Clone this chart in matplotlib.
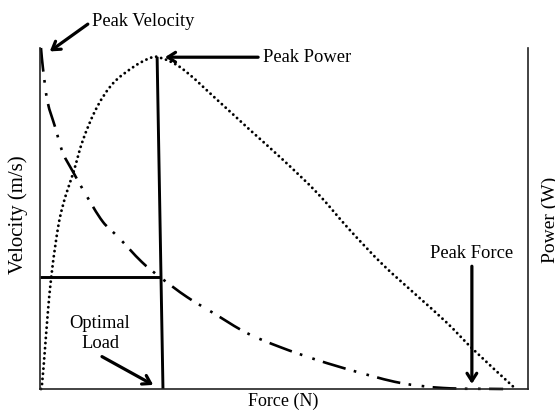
import matplotlib
matplotlib.use("Agg")
import numpy as np
import matplotlib.pyplot as plt
from matplotlib.path import Path
from matplotlib.patches import PathPatch

# ---- data (arbitrary units: force 0-100, velocity/power 0-100) ----
velocity_force = [0.2, 0.6, 1.6, 3.1, 4.7, 6.8, 9.2, 12.9, 16.0, 20.9, 24.6, 30.1,
                  35.5, 42.4, 49.2, 56.8, 65.0, 73.8, 82.6, 94.9]
velocity_vals = [100.0, 94.1, 83.9, 76.8, 69.2, 63.6, 57.5, 49.0, 44.6, 37.2, 32.8, 27.0,
                 22.3, 16.4, 12.3, 8.5, 5.0, 1.8, 0.3, 0.0]

power_force = [0.2, 0.4, 1.0, 1.6, 2.3, 3.3, 4.1, 5.3, 6.8, 8.8, 11.7, 15.0, 19.1, 22.1,
               24.0, 28.7, 36.3, 43.0, 49.8, 56.8, 63.5, 70.3, 77.3, 83.4, 88.7, 97.5]
power_vals = [0.0, 1.2, 11.4, 22.3, 32.8, 43.7, 50.4, 56.9, 63.3, 73.0, 82.7, 89.7, 94.4, 96.8,
              97.4, 94.4, 84.8, 76.0, 67.2, 57.5, 46.6, 36.4, 27.3, 19.4, 11.7, 0.0]

optimal_line_force = [24.0, 25.2]
optimal_line_power = [97.4, 0.0]
optimal_velocity = 32.8
optimal_force = 24.8

peak_force = 88.5

x_label = "Force (N)"
y_label = "Velocity (m/s)"
y2_label = "Power (W)"

# ---- figure ----
W, H = 555, 412
fig = plt.figure(figsize=(W / 100, H / 100), dpi=100)
L, R, T, B = 40, 528, 48, 389
ax = fig.add_axes([L / W, (H - B) / H, (R - L) / W, (B - T) / H])
ax.set_xlim(0, 100)
ax.set_ylim(0, 100)
ax.set_xticks([])
ax.set_yticks([])
ax.spines["top"].set_visible(False)
for s in ("left", "bottom", "right"):
    ax.spines[s].set_linewidth(1.2)
    ax.spines[s].set_color("#222222")

SX, SY = (R - L) / 100.0, (B - T) / 100.0  # pixel scale per data unit


def smooth_path(xs, ys):
    """Smooth Bezier path passing through the given data points."""
    p = np.column_stack([np.asarray(xs, float) * SX, np.asarray(ys, float) * SY])
    n = len(p)
    tang = np.zeros_like(p)
    for i in range(n):
        a = p[max(i - 1, 0)]
        b = p[min(i + 1, n - 1)]
        d = b - a
        tang[i] = d / (np.hypot(*d) + 1e-9)
    verts = [p[0]]
    codes = [Path.MOVETO]
    for i in range(n - 1):
        d = np.hypot(*(p[i + 1] - p[i]))
        verts += [p[i] + tang[i] * d / 3, p[i + 1] - tang[i + 1] * d / 3, p[i + 1]]
        codes += [Path.CURVE4] * 3
    v = np.array(verts)
    v[:, 0] /= SX
    v[:, 1] /= SY
    return Path(v, codes)


ax.add_patch(PathPatch(smooth_path(velocity_force, velocity_vals), fill=False,
                       edgecolor="black", lw=1.9, capstyle="butt",
                       linestyle=(0, (9, 3.2, 1, 4, 1, 3.2)), clip_on=False))
ax.add_patch(PathPatch(smooth_path(power_force, power_vals), fill=False,
                       edgecolor="black", lw=2.1, capstyle="round",
                       linestyle=(0, (0.01, 1.75)), clip_on=False))
ax.plot(optimal_line_force, optimal_line_power, color="black", lw=2.1,
        solid_capstyle="butt")
ax.plot([0, optimal_force], [optimal_velocity, optimal_velocity], color="black",
        lw=2.1, solid_capstyle="butt")

serif = ["Liberation Serif", "DejaVu Serif"]
fs = 13.3

arrow = dict(arrowstyle="->,head_length=0.55,head_width=0.35", color="black",
             lw=2.3, shrinkA=0, shrinkB=0)

ax.annotate("", xy=(2.0, 99.0), xytext=(9.8, 107.0), arrowprops=arrow,
            annotation_clip=False)
ax.text(10.6, 107.7, "Peak Velocity", fontsize=fs, family=serif,
        ha="left", va="center", clip_on=False)

ax.annotate("", xy=(25.6, 97.3), xytext=(44.7, 97.3), arrowprops=arrow,
            annotation_clip=False)
ax.text(45.6, 97.3, "Peak Power", fontsize=fs, family=serif,
        ha="left", va="center")

ax.text(peak_force, 39.6, "Peak Force", fontsize=fs, family=serif,
        ha="center", va="center")
ax.annotate("", xy=(peak_force, 1.5), xytext=(peak_force, 36.0),
            arrowprops=arrow)

ax.text(12.3, 16.3, "Optimal\nLoad", fontsize=fs, family=serif,
        ha="center", va="center", linespacing=1.25)
ax.annotate("", xy=(23.2, 1.2), xytext=(12.7, 9.5), arrowprops=arrow)

fig.text(283 / W, 1 - 401 / H, x_label, fontsize=13, family=serif,
         ha="center", va="center")
fig.text(18 / W, 1 - 215 / H, y_label, fontsize=15, family=serif,
         ha="center", va="center", rotation=90)
fig.text(550 / W, 1 - 220 / H, y2_label, fontsize=14, family=serif,
         ha="center", va="center", rotation=90)

fig.savefig("out.png", dpi=100)
